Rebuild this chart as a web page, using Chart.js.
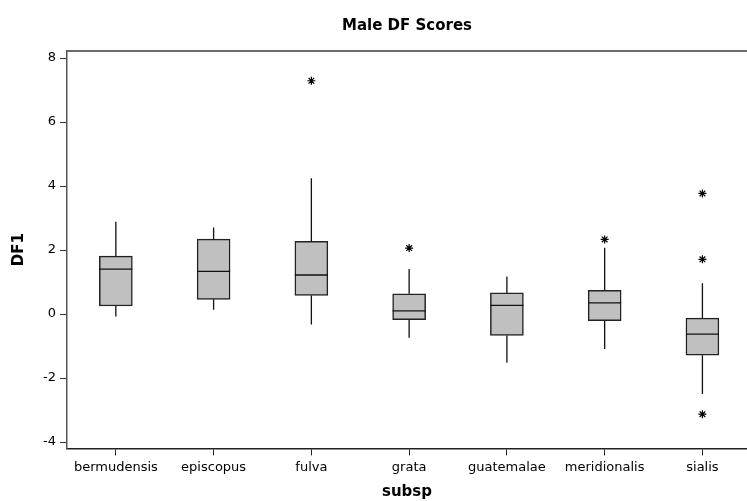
<!DOCTYPE html>
<html>
<head>
<meta charset="utf-8">
<script src="https://cdn.jsdelivr.net/npm/chart.js@4.4.1/dist/chart.umd.min.js"></script>
<style>
  html, body { margin: 0; padding: 0; background: #fff; }
  #wrap { width: 747px; height: 501px; }
</style>
</head>
<body>
<div id="wrap"><canvas id="boxChart"></canvas></div>
<script>
// box plot values (DF1 by subspecies)
const categories = ['bermudensis', 'episcopus', 'fulva', 'grata', 'guatemalae', 'meridionalis', 'sialis'];
const whiskerLow  = [-0.08, 0.13, -0.33, -0.74, -1.52, -1.09, -2.50];
const q1          = [0.25, 0.46, 0.58, -0.18, -0.67, -0.21, -1.29];
const median      = [1.40, 1.33, 1.22, 0.10, 0.27, 0.35, -0.63];
const q3          = [1.81, 2.34, 2.27, 0.63, 0.66, 0.74, -0.13];
const whiskerHigh = [2.88, 2.70, 4.24, 1.41, 1.17, 2.07, 0.96];
const outlierCategory = [2, 3, 5, 6, 6, 6];
const outlierValue    = [7.29, 2.06, 2.33, 3.77, 1.71, -3.13];
const yTicks = [-4, -2, 0, 2, 4, 6, 8];

const boxData = categories.map((c, i) => ({ x: i, y: [q1[i], q3[i]] }));
const outlierData = outlierCategory.map((c, i) => ({ x: c, y: outlierValue[i] }));

// whiskers, medians and the top frame line
const boxExtras = {
    id: 'boxExtras',
    afterDatasetsDraw(chart) {
        const { ctx, chartArea, scales: { x, y } } = chart;
        ctx.save();
        ctx.strokeStyle = '#111';
        ctx.lineWidth = 1.3;
        categories.forEach((c, i) => {
            const px = x.getPixelForValue(i);
            ctx.beginPath();
            ctx.moveTo(px, y.getPixelForValue(q3[i]));
            ctx.lineTo(px, y.getPixelForValue(whiskerHigh[i]));
            ctx.moveTo(px, y.getPixelForValue(q1[i]));
            ctx.lineTo(px, y.getPixelForValue(whiskerLow[i]));
            ctx.stroke();
            const half = 16.5;
            const my = y.getPixelForValue(median[i]);
            ctx.beginPath();
            ctx.moveTo(px - half, my);
            ctx.lineTo(px + half, my);
            ctx.stroke();
        });
        ctx.strokeStyle = '#6a6a6a';
        ctx.lineWidth = 2;
        ctx.beginPath();
        ctx.moveTo(chartArea.left, chartArea.top);
        ctx.lineTo(chartArea.right + 10, chartArea.top);
        ctx.stroke();
        ctx.restore();
    }
};

const ctx = document.getElementById('boxChart').getContext('2d');
const boxChart = new Chart(ctx, {
    data: {
        datasets: [{
            type: 'bar',
            data: boxData,
            backgroundColor: '#c0c0c0',
            borderColor: '#222',
            borderWidth: 1.5,
            borderSkipped: false,
            barThickness: 33
        }, {
            type: 'scatter',
            data: outlierData,
            pointStyle: 'star',
            radius: 4,
            borderColor: '#000',
            borderWidth: 1.2,
            backgroundColor: '#000'
        }]
    },
    options: {
        responsive: true,
        maintainAspectRatio: false,
        animation: false,
        layout: { autoPadding: false, padding: { left: 0, right: 0, top: 0, bottom: 0 } },
        scales: {
            x: {
                type: 'linear',
                min: -0.5,
                max: 6.456,
                offset: false,
                afterBuildTicks: (scale) => { scale.ticks = categories.map((c, i) => ({ value: i })); },
                ticks: {
                    callback: (v) => categories[v],
                    color: '#000',
                    font: { family: 'DejaVu Sans', size: 13 },
                    padding: 4,
                    maxRotation: 0,
                    autoSkip: false
                },
                grid: { display: true, offset: false, drawOnChartArea: false, drawTicks: true, tickLength: 7, tickColor: '#222' },
                border: { display: true, color: '#222', width: 1.5 },
                title: {
                    display: true,
                    text: 'subsp',
                    color: '#000',
                    font: { family: 'DejaVu Sans', size: 15, weight: 'bold' },
                    padding: { top: 4, bottom: 0 }
                }
            },
            y: {
                min: -4.2,
                max: 8.22,
                afterBuildTicks: (scale) => { scale.ticks = yTicks.map(v => ({ value: v })); },
                ticks: {
                    color: '#000',
                    font: { family: 'DejaVu Sans', size: 13 },
                    padding: 4
                },
                grid: { display: true, drawOnChartArea: false, drawTicks: true, tickLength: 7, tickColor: '#333' },
                border: { display: true, color: '#555', width: 1.5 },
                title: {
                    display: true,
                    text: 'DF1',
                    color: '#000',
                    font: { family: 'DejaVu Sans', size: 15, weight: 'bold' },
                    padding: { top: 10, bottom: 11 }
                }
            }
        },
        plugins: {
            legend: { display: false },
            tooltip: { enabled: false },
            title: {
                display: true,
                fullSize: false,
                text: 'Male DF Scores',
                color: '#000',
                font: { family: 'DejaVu Sans', size: 15, weight: 'bold' },
                padding: { top: 17, bottom: 16 }
            }
        }
    },
    plugins: [boxExtras]
});
</script>
</body>
</html>
